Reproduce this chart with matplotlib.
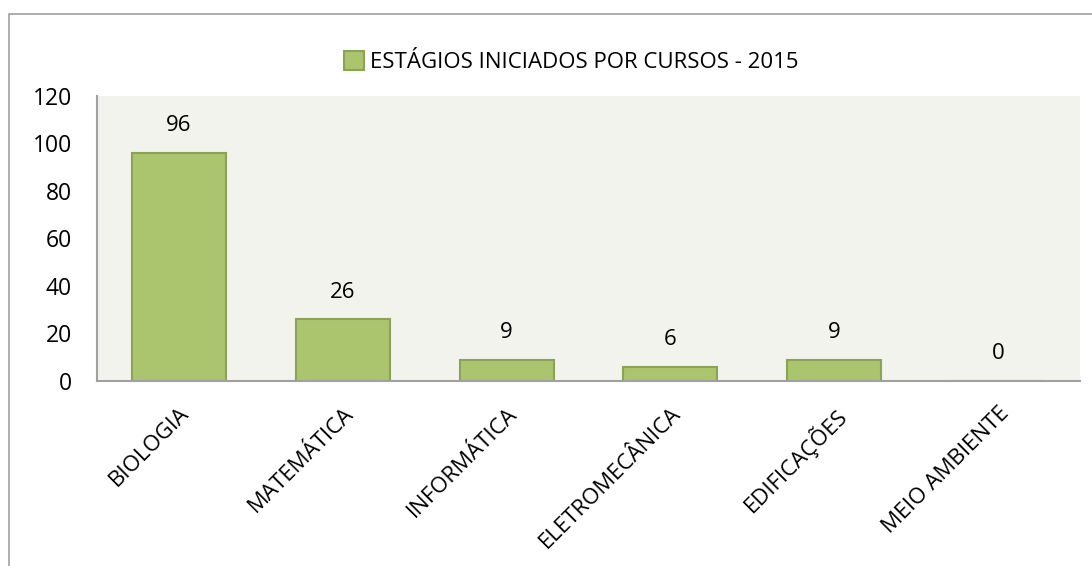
import matplotlib.pyplot as plt
from matplotlib.patches import Rectangle

cursos = ['BIOLOGIA', 'MATEMÁTICA', 'INFORMÁTICA', 'ELETROMECÂNICA', 'EDIFICAÇÕES', 'MEIO AMBIENTE']
estagios = [96, 26, 9, 6, 9, 0]
serie = 'ESTÁGIOS INICIADOS POR CURSOS - 2015'

plt.rcParams['font.family'] = ['Open Sans', 'DejaVu Sans']

fig = plt.figure(figsize=(10.92, 5.66), dpi=100)
ax = fig.add_axes([0.0888, 0.3269, 0.9002, 0.5035])
ax.set_facecolor('#f1f3ec')

x = range(len(cursos))
bars = ax.bar(x, estagios, width=0.574, color='#abc56e', edgecolor='#8aa356',
              linewidth=1.5, label=serie)

for xi, v in zip(x, estagios):
    ax.text(xi, v + 7, str(v), ha='center', va='bottom', fontsize=16)

ax.set_xlim(-0.5, len(cursos) - 0.5)
ax.set_ylim(0, 120)
ax.set_yticks(range(0, 121, 20))
ax.set_xticks(list(x))
ax.set_xticklabels(cursos, rotation=45, ha='right', rotation_mode='anchor', fontsize=16)
ax.tick_params(axis='y', length=0, labelsize=16.5, pad=18)
ax.tick_params(axis='x', length=0, pad=16)

for s in ['top', 'right']:
    ax.spines[s].set_visible(False)
for s in ['left', 'bottom']:
    ax.spines[s].set_color('#a0a0a0')
    ax.spines[s].set_linewidth(1.5)

fig.legend(loc='center', bbox_to_anchor=(0.523, 0.89), frameon=False, fontsize=16,
           handlelength=0.9, handleheight=0.9, handletextpad=0.3)

# moldura externa do grafico
fig.patches.append(Rectangle((9 / 1092, -0.01), 1.02, 1 - 14 / 566 + 0.01,
                             transform=fig.transFigure, fill=False,
                             edgecolor='#a0a0a0', linewidth=1.2))

fig.savefig('out.png', dpi=100)
